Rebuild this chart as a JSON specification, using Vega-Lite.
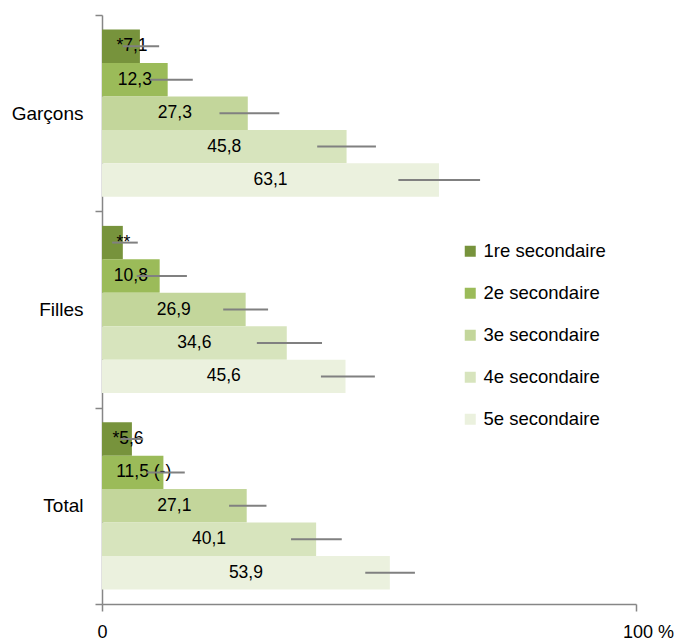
{
  "$schema": "https://vega.github.io/schema/vega-lite/v6.json",
  "autosize": {"type": "none"},
  "width": 534,
  "height": 589,
  "padding": {"left": 102, "top": 15, "right": 38, "bottom": 40},
  "background": "white",
  "config": {"font": "Liberation Sans", "view": {"stroke": null}},
  "data": {
    "values": [
      {"group": "Garçons", "level": "1re secondaire", "value": 7.1, "lo": 3.9, "hi": 10.7, "label": "*7,1"},
      {"group": "Garçons", "level": "2e secondaire", "value": 12.3, "lo": 9.0, "hi": 17.0, "label": "12,3"},
      {"group": "Garçons", "level": "3e secondaire", "value": 27.3, "lo": 22.0, "hi": 33.2, "label": "27,3"},
      {"group": "Garçons", "level": "4e secondaire", "value": 45.8, "lo": 40.3, "hi": 51.3, "label": "45,8"},
      {"group": "Garçons", "level": "5e secondaire", "value": 63.1, "lo": 55.5, "hi": 70.8, "label": "63,1"},
      {"group": "Filles", "level": "1re secondaire", "value": 3.9, "lo": 1.9, "hi": 6.7, "label": "**"},
      {"group": "Filles", "level": "2e secondaire", "value": 10.8, "lo": 6.5, "hi": 15.9, "label": "10,8"},
      {"group": "Filles", "level": "3e secondaire", "value": 26.9, "lo": 22.7, "hi": 31.1, "label": "26,9"},
      {"group": "Filles", "level": "4e secondaire", "value": 34.6, "lo": 29.0, "hi": 41.2, "label": "34,6"},
      {"group": "Filles", "level": "5e secondaire", "value": 45.6, "lo": 41.0, "hi": 51.1, "label": "45,6"},
      {"group": "Total", "level": "1re secondaire", "value": 5.6, "lo": 3.5, "hi": 7.7, "label": "*5,6"},
      {"group": "Total", "level": "2e secondaire", "value": 11.5, "lo": 8.4, "hi": 15.5, "label": "11,5 (-)"},
      {"group": "Total", "level": "3e secondaire", "value": 27.1, "lo": 23.8, "hi": 30.8, "label": "27,1"},
      {"group": "Total", "level": "4e secondaire", "value": 40.1, "lo": 35.4, "hi": 44.9, "label": "40,1"},
      {"group": "Total", "level": "5e secondaire", "value": 53.9, "lo": 49.3, "hi": 58.6, "label": "53,9"}
    ]
  },
  "encoding": {
    "y": {
      "field": "group", "type": "nominal",
      "sort": ["Garçons", "Filles", "Total"],
      "scale": {"paddingInner": 0, "paddingOuter": 0},
      "axis": {
        "title": null, "tickBand": "extent", "tickSize": 7,
        "labelFontSize": 19, "labelColor": "#000", "labelPadding": 12,
        "domainColor": "#868686", "tickColor": "#868686",
        "domainWidth": 1.5, "tickWidth": 1.5, "grid": false
      }
    },
    "yOffset": {
      "field": "level", "type": "nominal",
      "sort": ["1re secondaire", "2e secondaire", "3e secondaire", "4e secondaire", "5e secondaire"],
      "scale": {"paddingInner": 0, "paddingOuter": 0.435}
    }
  },
  "layer": [
    {
      "mark": {"type": "bar"},
      "encoding": {
        "x": {
          "field": "value", "type": "quantitative",
          "scale": {"domain": [0, 100]},
          "axis": {
            "title": null, "values": [0, 100],
            "labelExpr": "datum.value == 100 ? '100 %' : '0'",
            "tickSize": 7, "labelFontSize": 18, "labelColor": "#000",
            "labelPadding": 12, "labelFlush": false, "grid": false,
            "domainColor": "#868686", "tickColor": "#868686",
            "domainWidth": 1.5, "tickWidth": 1.5,
            "labelOffset": {"condition": {"test": "datum.value == 100", "value": 12}, "value": 0}
          }
        },
        "color": {
          "field": "level", "type": "nominal",
          "sort": ["1re secondaire", "2e secondaire", "3e secondaire", "4e secondaire", "5e secondaire"],
          "scale": {
            "domain": ["1re secondaire", "2e secondaire", "3e secondaire", "4e secondaire", "5e secondaire"],
            "range": ["#77933C", "#9BBB59", "#C3D69B", "#D7E4BD", "#EBF1DE"]
          },
          "legend": {
            "title": null, "orient": "none", "legendX": 359, "legendY": 227,
            "symbolType": "square", "symbolSize": 121, "symbolStrokeWidth": 0,
            "labelFontSize": 18.5, "labelColor": "#000", "rowPadding": 23,
            "labelOffset": 4, "padding": 0
          }
        }
      }
    },
    {
      "transform": [{"filter": "indexof(datum.label, '*') < 0 && indexof(datum.label, '(') < 0"}],
      "mark": {"type": "text", "fontSize": 17.5, "color": "#000"},
      "encoding": {
        "x": {"field": "value", "type": "quantitative", "scale": {"domain": [0, 200]}, "axis": null},
        "text": {"field": "label"}
      }
    },
    {
      "transform": [{"filter": "indexof(datum.label, '*') >= 0 || indexof(datum.label, '(') >= 0"}],
      "mark": {"type": "text", "fontSize": 17.5, "color": "#000", "dx": 11},
      "encoding": {
        "x": {"field": "value", "type": "quantitative", "scale": {"domain": [0, 200]}, "axis": null},
        "text": {"field": "label"}
      }
    },
    {
      "mark": {"type": "rule", "color": "#808080", "strokeWidth": 2},
      "encoding": {
        "x": {"field": "lo", "type": "quantitative", "scale": {"domain": [0, 100]}, "axis": null},
        "x2": {"field": "hi"}
      }
    }
  ],
  "resolve": {"scale": {"x": "independent"}}
}
